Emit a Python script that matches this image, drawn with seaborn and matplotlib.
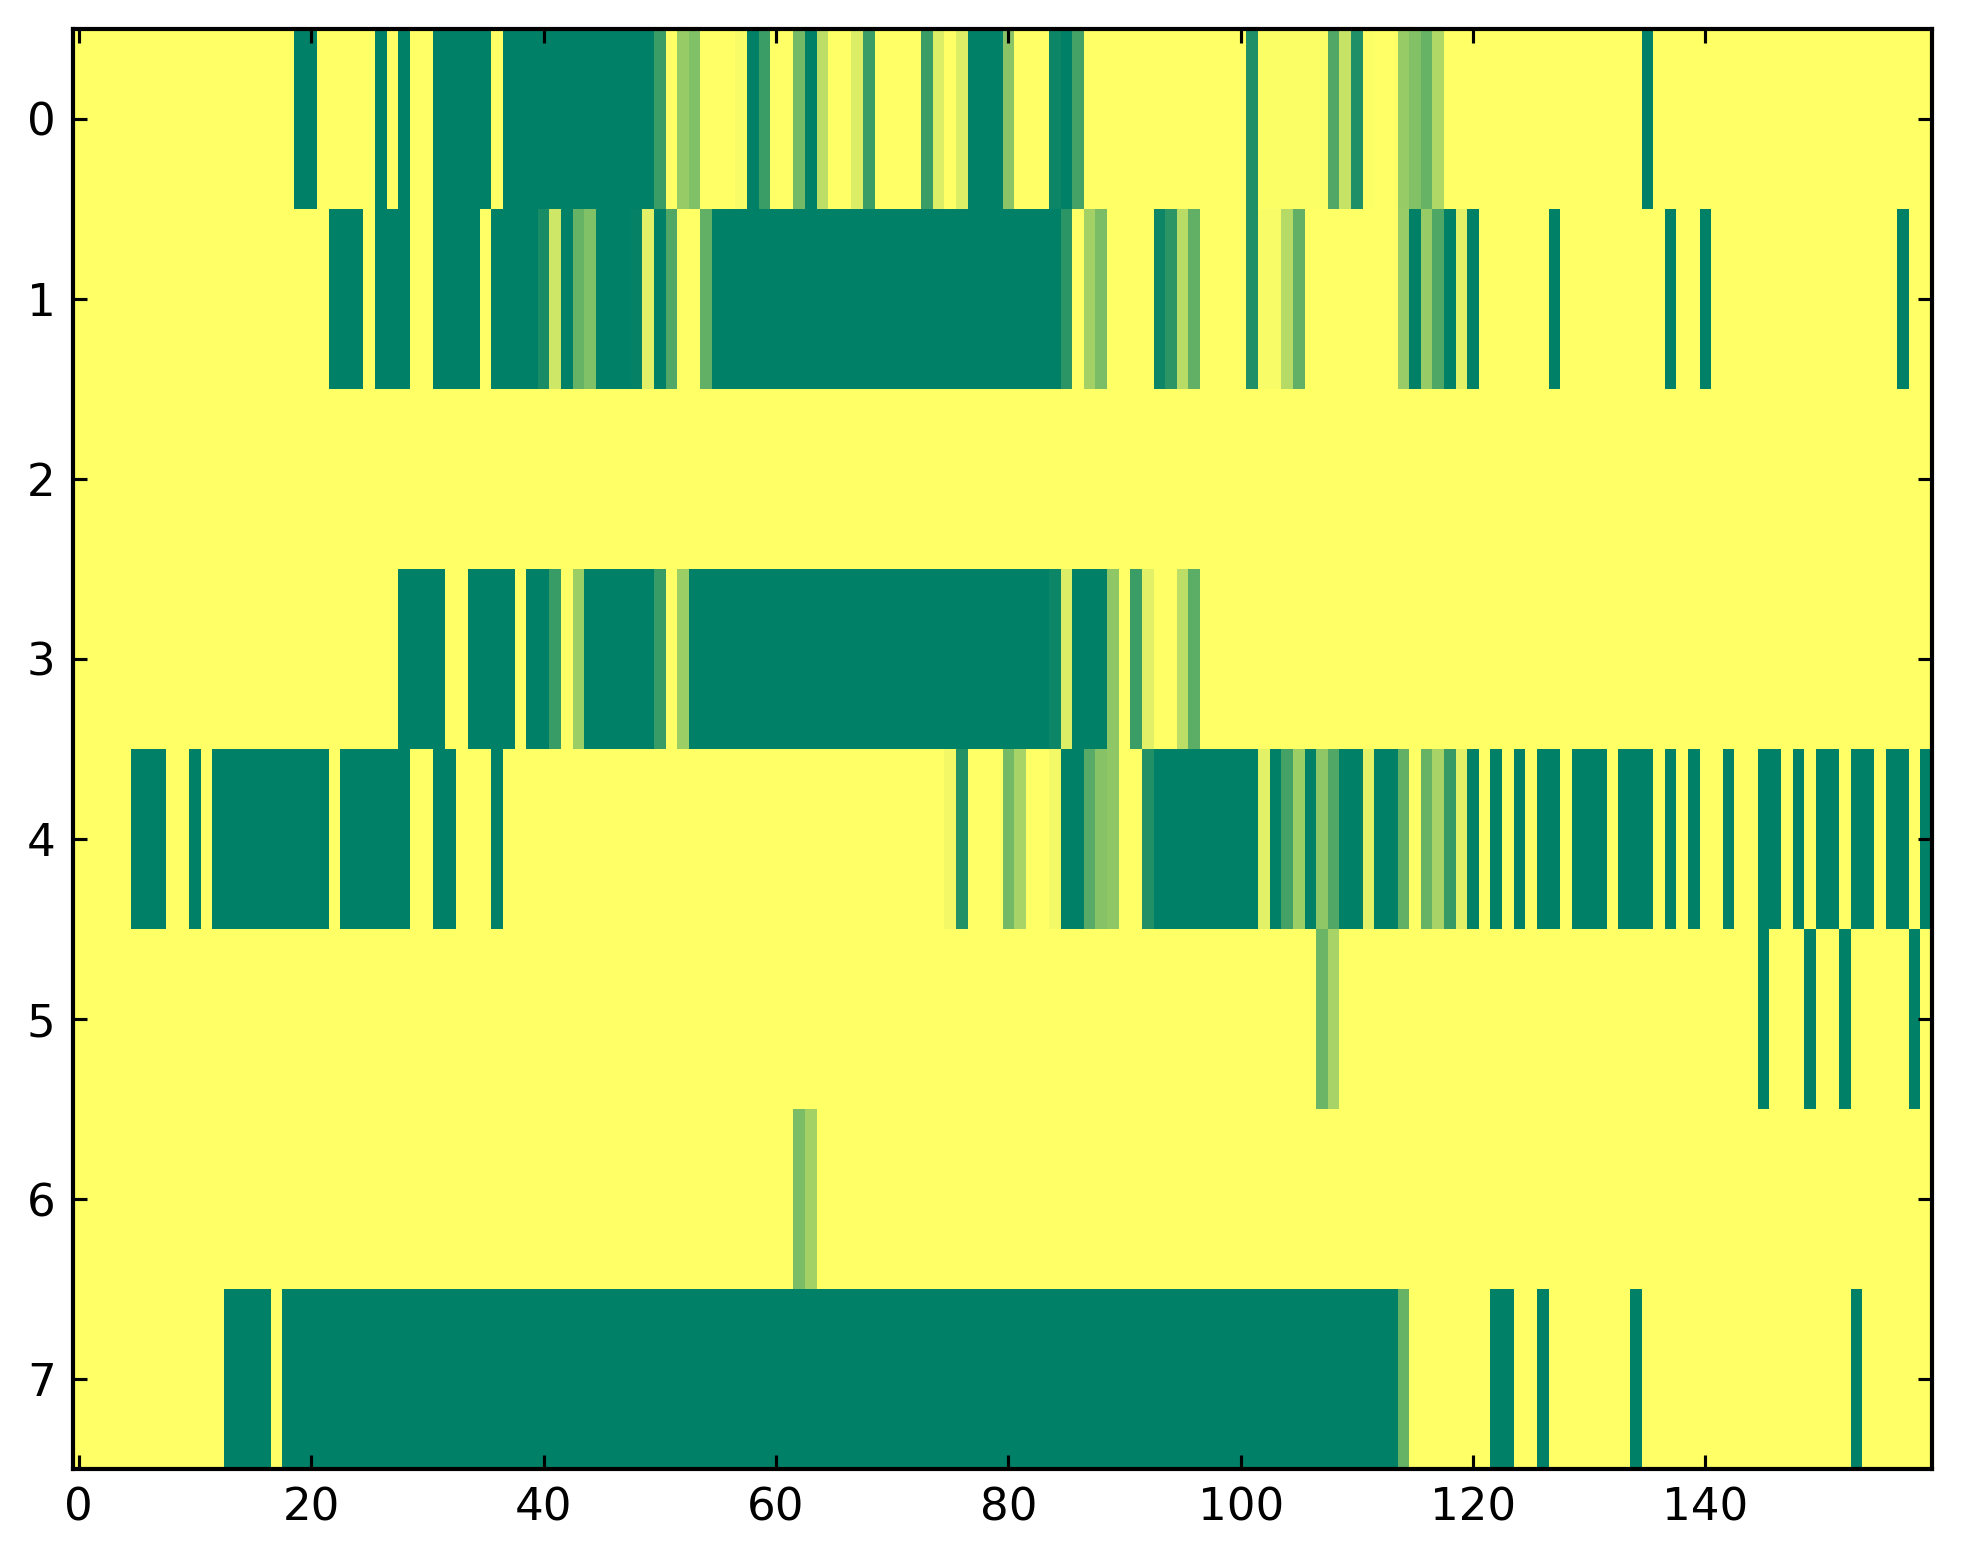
import numpy as np
import matplotlib
matplotlib.use("Agg")
import matplotlib.pyplot as plt
import seaborn as sns

n_cols = 160
row_labels = [0, 1, 2, 3, 4, 5, 6, 7]
x_tick_values = [0, 20, 40, 60, 80, 100, 120, 140]

# non-yellow segments per row: (first column, last column, value); all other cells are 1.0
row0 = [(19, 20, 0), (26, 26, 0), (28, 28, 0), (31, 35, 0), (37, 49, 0), (50, 50, 0.23),
        (52, 52, 0.59), (53, 53, 0.50), (57, 57, 0.97), (58, 58, 0), (59, 59, 0.23),
        (62, 62, 0.45), (63, 63, 0), (64, 64, 0.74), (67, 67, 0.86), (68, 68, 0.23),
        (73, 73, 0.23), (74, 74, 0.86), (76, 76, 0.86), (77, 79, 0), (80, 80, 0.54),
        (84, 84, 0.05), (85, 85, 0), (86, 86, 0.27), (101, 101, 0.12), (102, 107, 0.985),
        (108, 108, 0.32), (109, 109, 0.78), (110, 110, 0.12), (111, 111, 0.985),
        (114, 114, 0.59), (115, 115, 0.51), (116, 116, 0.40), (117, 117, 0.69), (135, 135, 0)]
row1 = [(22, 24, 0), (26, 28, 0), (31, 34, 0), (36, 39, 0), (40, 40, 0.10), (41, 41, 0.81),
        (42, 42, 0), (43, 43, 0.40), (44, 44, 0.50), (45, 47, 0), (48, 48, 0.02),
        (49, 49, 0.88), (50, 50, 0), (51, 51, 0.32), (54, 54, 0.38), (55, 84, 0),
        (85, 85, 0.17), (87, 87, 0.64), (88, 88, 0.48), (93, 93, 0.05), (94, 94, 0.17),
        (95, 95, 0.72), (96, 96, 0.38), (101, 101, 0.12), (102, 103, 0.97), (104, 104, 0.71),
        (105, 105, 0.38), (114, 114, 0.60), (115, 115, 0), (116, 116, 0.59), (117, 117, 0.31),
        (118, 118, 0), (119, 119, 0.89), (120, 120, 0), (127, 127, 0), (137, 137, 0),
        (140, 140, 0), (157, 157, 0)]
row2 = []
row3 = [(28, 31, 0), (34, 37, 0), (39, 40, 0), (41, 41, 0.22), (43, 43, 0.61), (44, 49, 0),
        (50, 50, 0.22), (52, 52, 0.61), (53, 83, 0), (84, 84, 0.05), (85, 85, 0.86),
        (86, 88, 0), (89, 89, 0.56), (91, 91, 0.23), (92, 92, 0.88), (95, 95, 0.74),
        (96, 96, 0.36)]
row4 = [(5, 7, 0), (10, 10, 0), (12, 21, 0), (23, 28, 0), (31, 32, 0), (36, 36, 0),
        (75, 75, 0.95), (76, 76, 0.14), (80, 80, 0.45), (81, 81, 0.66), (84, 84, 0.95),
        (85, 86, 0), (87, 87, 0.34), (88, 88, 0.53), (89, 89, 0.56), (92, 92, 0.13),
        (93, 101, 0), (102, 102, 0.89), (103, 103, 0), (104, 104, 0.27), (105, 105, 0.61),
        (106, 106, 0), (107, 107, 0.56), (108, 108, 0.32), (109, 110, 0), (111, 111, 0.89),
        (112, 113, 0), (114, 114, 0.38), (116, 116, 0.40), (117, 117, 0.66), (118, 118, 0.21),
        (119, 119, 0.89), (120, 120, 0), (122, 122, 0), (124, 124, 0), (126, 127, 0),
        (129, 131, 0), (133, 135, 0), (137, 137, 0), (139, 139, 0), (142, 142, 0),
        (145, 146, 0), (148, 148, 0), (150, 151, 0), (153, 154, 0), (156, 157, 0),
        (159, 159, 0)]
row5 = [(107, 107, 0.42), (108, 108, 0.66), (145, 145, 0), (149, 149, 0), (152, 152, 0),
        (158, 158, 0)]
row6 = [(62, 62, 0.48), (63, 63, 0.64)]
row7 = [(13, 16, 0), (18, 113, 0), (114, 114, 0.40), (122, 123, 0), (126, 126, 0),
        (134, 134, 0), (153, 153, 0)]

rows = [row0, row1, row2, row3, row4, row5, row6, row7]
matrix = np.ones((len(rows), n_cols))
for i, segs in enumerate(rows):
    for a, b, v in segs:
        matrix[i, a:b + 1] = v

fig = plt.figure(figsize=(1963 / 250, 1564 / 250), dpi=250)
ax = fig.add_axes([0.0372, 0.0607, 0.9470, 0.9208])
sns.heatmap(matrix, cmap="summer", vmin=0, vmax=1, cbar=False, ax=ax,
            xticklabels=False, yticklabels=False, linewidths=0, rasterized=True)

ax.set_xticks(np.array(x_tick_values) + 0.5)
ax.set_xticklabels([str(v) for v in x_tick_values], fontsize=13, rotation=0)
ax.set_yticks(np.array(row_labels) + 0.5)
ax.set_yticklabels([str(v) for v in row_labels], fontsize=13, rotation=0)
ax.tick_params(direction="in", top=True, right=True, length=4, width=0.9, pad=5)
for spine in ax.spines.values():
    spine.set_visible(True)
    spine.set_color("black")
    spine.set_linewidth(1.2)

fig.savefig("out.png", dpi=250, facecolor="white")
